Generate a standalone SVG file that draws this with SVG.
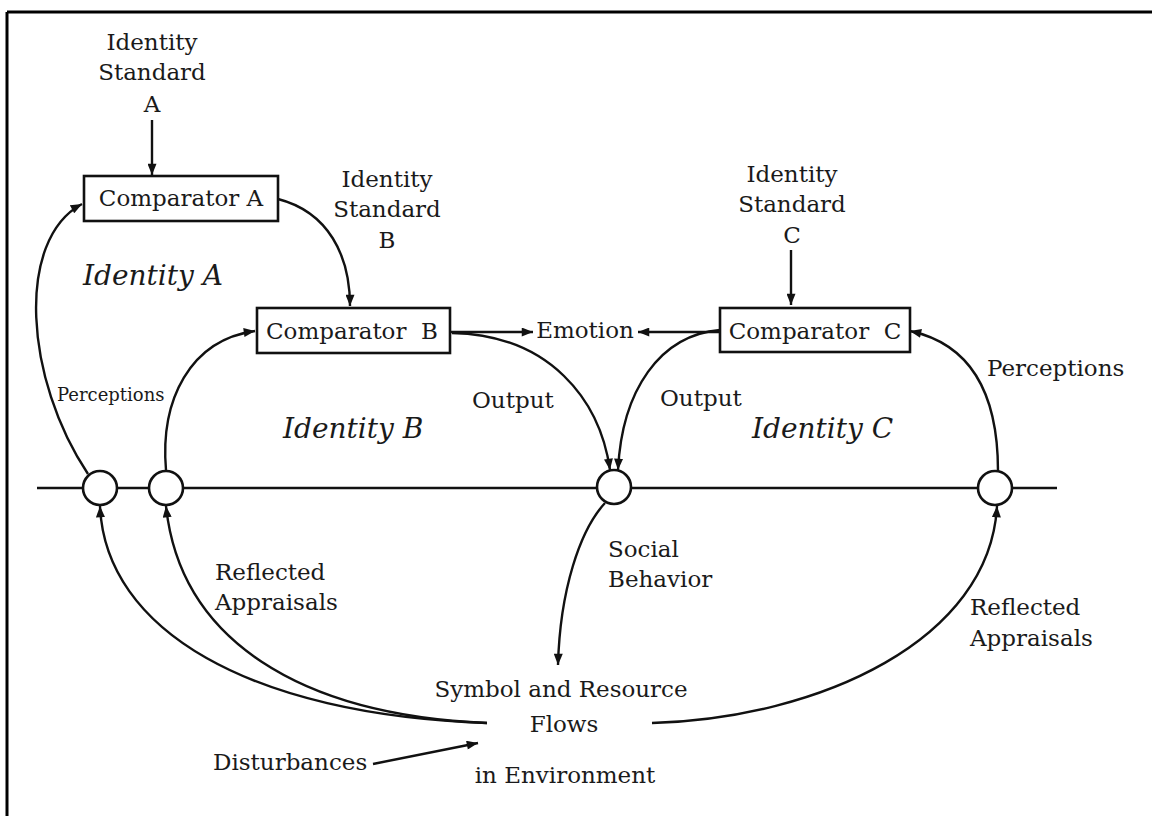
<svg xmlns="http://www.w3.org/2000/svg" width="1152" height="816" viewBox="0 0 1152 816">
<defs>
<marker id="ah" viewBox="0 0 10 8" refX="10" refY="4" markerWidth="12" markerHeight="9" markerUnits="userSpaceOnUse" orient="auto">
<path d="M0,0 L10,4 L0,8 Z" fill="#111"/>
</marker>
<style>
text{font-family:"DejaVu Serif","Liberation Serif",serif;font-size:23px;fill:#1a1a1a}
.it{font-style:italic;font-size:28px}
.sm{font-size:18px}
.mid{text-anchor:middle}
.box{fill:#fff;stroke:#111;stroke-width:2.6}
.c{fill:none;stroke:#111;stroke-width:2.6}
.a{fill:none;stroke:#111;stroke-width:2.4;marker-end:url(#ah)}
.node{fill:#fff;stroke:#111;stroke-width:2.6}
</style>
</defs>
<rect width="1152" height="816" fill="#fff"/>
<g id="frame">
<path d="M7,12 H1152 M7,12 V816" fill="none" stroke="#000" stroke-width="3"/>
</g>
<g id="axis">
<line x1="37" y1="488" x2="1057" y2="488" class="c"/>
</g>
<g id="connectors">
<path class="a" d="M152,120 L152,175"/>
<path class="a" d="M278,199 C328,212 350,255 350,306"/>
<path class="a" d="M791,250 L791,305"/>
<path class="a" d="M88,474 C25,380 15,240 82,204"/>
<path class="a" d="M166,470 C160,400 190,340 255,331"/>
<path class="a" d="M452,333 C550,335 600,400 610,470"/>
<path class="a" d="M720,330 C660,335 622,390 618,470"/>
<path class="a" d="M998,471 C998,400 975,345 910,331"/>
<path class="a" d="M450,332 L533,332"/>
<path class="a" d="M720,332 L638,332"/>
<path class="a" d="M605,503 C580,530 560,590 558,665"/>
<path class="a" d="M487,723 C250,715 105,630 100,506"/>
<path class="a" d="M487,723 C300,715 180,640 166,506"/>
<path class="a" d="M652,723 C820,718 990,640 997,506"/>
<path class="a" d="M373,764 L478,743"/>
</g>
<g id="circle1"><circle cx="100" cy="488" r="17" class="node"/></g>
<g id="circle2"><circle cx="166" cy="488" r="17" class="node"/></g>
<g id="circle3"><circle cx="614" cy="487" r="17" class="node"/></g>
<g id="circle4"><circle cx="995" cy="488" r="17" class="node"/></g>
<g id="stdA">
<text x="152" y="50" class="mid">Identity</text>
<text x="152" y="80" class="mid">Standard</text>
<text x="152" y="112" class="mid">A</text>
</g>
<g id="compA">
<rect x="84" y="176" width="194" height="45" class="box"/>
<text x="181" y="206" class="mid">Comparator A</text>
</g>
<g id="stdB">
<text x="387" y="187" class="mid">Identity</text>
<text x="387" y="217" class="mid">Standard</text>
<text x="387" y="248" class="mid">B</text>
</g>
<g id="identityA"><text x="83" y="285" class="it">Identity A</text></g>
<g id="compB">
<rect x="257" y="308" width="193" height="45" class="box"/>
<text x="352" y="339" class="mid" xml:space="preserve">Comparator  B</text>
</g>
<g id="emotion"><text x="585" y="338" class="mid">Emotion</text></g>
<g id="stdC">
<text x="792" y="182" class="mid">Identity</text>
<text x="792" y="212" class="mid">Standard</text>
<text x="792" y="243" class="mid">C</text>
</g>
<g id="compC">
<rect x="720" y="308" width="190" height="44" class="box"/>
<text x="815" y="339" class="mid" xml:space="preserve">Comparator  C</text>
</g>
<g id="labels">
<text x="987" y="376">Perceptions</text>
<text x="57" y="401" class="sm">Perceptions</text>
<text x="283" y="438" class="it">Identity B</text>
<text x="752" y="438" class="it">Identity C</text>
<text x="472" y="408">Output</text>
<text x="660" y="406">Output</text>
<text x="608" y="557">Social</text>
<text x="608" y="587">Behavior</text>
<text x="215" y="580">Reflected</text>
<text x="215" y="610">Appraisals</text>
<text x="970" y="615">Reflected</text>
<text x="970" y="646">Appraisals</text>
<text x="213" y="770">Disturbances</text>
</g>
<g id="environment">
<text x="561" y="697" class="mid">Symbol and Resource</text>
<text x="564" y="732" class="mid">Flows</text>
<text x="565" y="783" class="mid">in Environment</text>
</g>
</svg>
